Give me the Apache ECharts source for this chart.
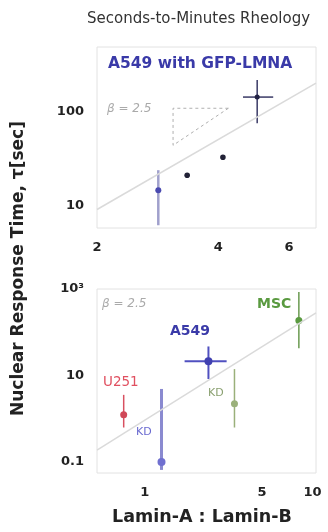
<!DOCTYPE html>
<html><head><meta charset="utf-8">
<script src="https://cdn.jsdelivr.net/npm/echarts@6/dist/echarts.min.js"></script>
<style>html,body{margin:0;padding:0;background:#fff}#c{width:328px;height:532px}</style>
</head><body><div id="c"></div>
<script>
// ---- Top panel: A549 with GFP-LMNA ----
const topX    = [2.84, 3.35, 4.11, 5.0];
const topY    = [14.5, 21, 32.8, 145];
const topXLo  = [null, null, null, 4.61];
const topXHi  = [null, null, null, 5.48];
const topYLo  = [6.1, null, null, 76];
const topYHi  = [23.8, null, null, 221];
const topFitX = [2, 7];
const topFitY = [9.0, 205];
const triX    = [4.24, 3.09, 3.09, 4.24];
const triY    = [110, 110, 44, 110];
const topXTicks = [2, 4, 6];
const topYTicks = [10, 100];

// ---- Bottom panel: cell types ----
const botNames = ['U251', 'A549 KD', 'A549', 'MSC KD', 'MSC'];
const botX    = [0.75, 1.26, 2.40, 3.43, 8.3];
const botY    = [1.25, 0.1, 21.4, 2.23, 186];
const botXLo  = [null, null, 1.73, null, null];
const botXHi  = [null, null, 3.08, null, null];
const botYLo  = [0.63, 0.066, 8.3, 0.63, 42.5];
const botYHi  = [3.58, 4.9, 47, 14.1, 850];
const botFitX = [0.52, 10.5];
const botFitY = [0.19, 280];
const botXTicks = [1, 5, 10];
const botYTicks = [0.1, 10, 1000];

// styles (kept separate from data)
const topStyle = [
  {bar:'#a0a0cc', barW:2.5, dot:'#4a4ab0', r:3},
  {bar:'#223', barW:1.5, dot:'#222236', r:2.8},
  {bar:'#223', barW:1.5, dot:'#222236', r:2.8},
  {bar:'#3a3a66', barW:1.5, dot:'#222244', r:2.5}
];
const botStyle = [
  {bar:'#d85060', barW:1.5, dot:'#d04858', r:3.5},
  {bar:'#8a8ad0', barW:3, dot:'#7070d0', r:4},
  {bar:'#5050c0', barW:2, dot:'#4040b0', r:4},
  {bar:'#9ab07a', barW:1.5, dot:'#9ab07a', r:3.5},
  {bar:'#6a9a50', barW:1.5, dot:'#5a9a40', r:3.5}
];

const LBL = {fontFamily:'DejaVu Sans', fontWeight:'bold', fontSize:13, color:'#222'};

function errRender(xs, ys, xlo, xhi, ylo, yhi, st) {
  return function (params, api) {
    const i = params.dataIndex;
    const c = api.coord([xs[i], ys[i]]);
    const s = st[i];
    const kids = [];
    if (ylo[i] != null) {
      const a = api.coord([xs[i], ylo[i]]), b = api.coord([xs[i], yhi[i]]);
      kids.push({type:'line', shape:{x1:a[0], y1:a[1], x2:b[0], y2:b[1]}, style:{stroke:s.bar, lineWidth:s.barW}});
    }
    if (xlo[i] != null) {
      const a = api.coord([xlo[i], ys[i]]), b = api.coord([xhi[i], ys[i]]);
      kids.push({type:'line', shape:{x1:a[0], y1:a[1], x2:b[0], y2:b[1]}, style:{stroke:s.bar, lineWidth:s.barW}});
    }
    kids.push({type:'circle', shape:{cx:c[0], cy:c[1], r:s.r}, style:{fill:s.dot}});
    return {type:'group', children:kids};
  };
}

const chart = echarts.init(document.getElementById('c'), null, {renderer:'canvas'});

function xAxisDef(idx, min, max, ticks) {
  return {gridIndex:idx, type:'log', min:min, max:max,
    axisLine:{show:false}, axisTick:{show:false}, splitLine:{show:false},
    axisLabel:Object.assign({customValues:ticks, margin:13, formatter:v=>String(+(+v).toPrecision(3))}, LBL)};
}
function yAxisDef(idx, min, max, ticks) {
  return {gridIndex:idx, type:'log', min:min, max:max,
    axisLine:{show:false}, axisTick:{show:false}, splitLine:{show:false},
    axisLabel:Object.assign({customValues:ticks, margin:13,
      formatter:v=>{ const n=+(+v).toPrecision(3); return n===1000?'10³':String(n);} }, LBL)};
}

chart.setOption({
  animation:false,
  backgroundColor:'#fff',
  grid:[
    {left:97, top:47, width:219, height:181, show:true, borderColor:'#e2e2e2', borderWidth:1, backgroundColor:'#fff'},
    {left:97, top:289, width:219, height:184, show:true, borderColor:'#e2e2e2', borderWidth:1, backgroundColor:'#fff'}
  ],
  xAxis:[ xAxisDef(0, 2, 7, topXTicks), xAxisDef(1, 0.52, 10.5, botXTicks) ],
  yAxis:[ yAxisDef(0, 5.7, 500, topYTicks), yAxisDef(1, 0.056, 1000, botYTicks) ],
  series:[
    {type:'line', xAxisIndex:0, yAxisIndex:0, data:topFitX.map((x,i)=>[x, topFitY[i]]),
      symbol:'none', lineStyle:{color:'#dadada', width:1.5}, silent:true},
    {type:'line', xAxisIndex:0, yAxisIndex:0, data:triX.map((x,i)=>[x, triY[i]]),
      symbol:'none', lineStyle:{color:'#b0b0b0', width:1, type:[3,3]}, silent:true},
    {type:'custom', xAxisIndex:0, yAxisIndex:0, data:topX.map((x,i)=>[x, topY[i]]),
      renderItem:errRender(topX, topY, topXLo, topXHi, topYLo, topYHi, topStyle), silent:true},
    {type:'line', xAxisIndex:1, yAxisIndex:1, data:botFitX.map((x,i)=>[x, botFitY[i]]),
      symbol:'none', lineStyle:{color:'#dadada', width:1.5}, silent:true},
    {type:'custom', xAxisIndex:1, yAxisIndex:1, data:botX.map((x,i)=>[x, botY[i]]),
      renderItem:errRender(botX, botY, botXLo, botXHi, botYLo, botYHi, botStyle), silent:true}
  ],
  graphic:[
    {type:'text', left:87, top:12, style:{text:'Seconds-to-Minutes Rheology', fontFamily:'DejaVu Sans', fontSize:15, fill:'#333'}},
    {type:'text', left:108, top:56, style:{text:'A549 with GFP-LMNA', fontFamily:'DejaVu Sans', fontWeight:'bold', fontSize:15.5, fill:'#3a3aa8'}},
    {type:'text', left:107, top:103, style:{text:'β = 2.5', fontFamily:'DejaVu Sans', fontStyle:'italic', fontSize:12, fill:'#aaa'}},
    {type:'text', left:102, top:298, style:{text:'β = 2.5', fontFamily:'DejaVu Sans', fontStyle:'italic', fontSize:12, fill:'#aaa'}},
    {type:'text', left:170, top:324, style:{text:'A549', fontFamily:'DejaVu Sans', fontWeight:'bold', fontSize:14, fill:'#3a3aa8'}},
    {type:'text', left:257, top:297, style:{text:'MSC', fontFamily:'DejaVu Sans', fontWeight:'bold', fontSize:14, fill:'#5a9a40'}},
    {type:'text', left:103, top:375, style:{text:'U251', fontFamily:'DejaVu Sans', fontSize:13.5, fill:'#e05060'}},
    {type:'text', left:136, top:427, style:{text:'KD', fontFamily:'DejaVu Sans', fontSize:11, fill:'#6a6ad0'}},
    {type:'text', left:208, top:388, style:{text:'KD', fontFamily:'DejaVu Sans', fontSize:11, fill:'#8aa070'}},
    {type:'text', left:112, top:508, style:{text:'Lamin-A : Lamin-B', fontFamily:'DejaVu Sans', fontWeight:'bold', fontSize:17.5, fill:'#222'}},
    {type:'text', x:10, y:416, rotation:Math.PI/2, style:{text:'Nuclear Response Time, τ[sec]', fontFamily:'DejaVu Sans', fontWeight:'bold', fontSize:17, fill:'#222'}}
  ]
});
</script></body></html>
